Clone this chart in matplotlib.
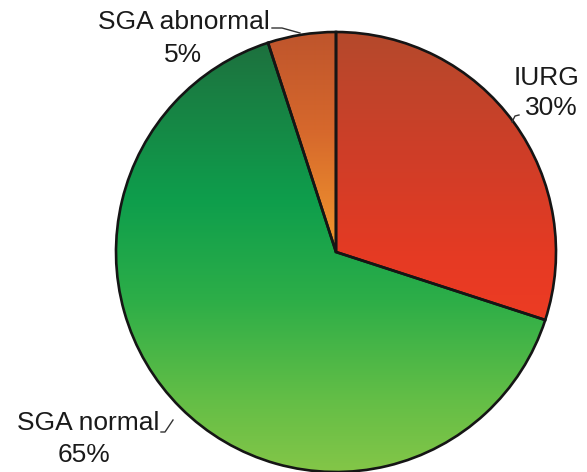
import numpy as np
import matplotlib.pyplot as plt

# Pie data
labels = ["IURG", "SGA normal", "SGA abnormal"]
shares = [30, 65, 5]

# Vertical colour ramps for each slice: (pixel row from top, RGB)
ramps = {
    "IURG": [(30, (180, 74, 44)), (150, (206, 62, 40)), (260, (230, 58, 35)), (330, (238, 60, 36))],
    "SGA normal": [(40, (30, 112, 62)), (200, (14, 158, 76)), (300, (45, 174, 72)),
                   (400, (100, 190, 70)), (472, (132, 198, 72))],
    "SGA abnormal": [(30, (190, 84, 44)), (130, (214, 104, 44)), (252, (242, 152, 46))],
}

W, H = 587, 472
fig = plt.figure(figsize=(W / 100, H / 100), dpi=100)
ax = fig.add_axes([0, 0, 1, 1])

cx, cy, r = 336, H - 252, 220
wedges, _ = ax.pie(shares, startangle=90, counterclock=False, center=(cx, cy),
                   radius=r, frame=True, colors=["none"] * 3,
                   wedgeprops=dict(edgecolor="#151515", linewidth=1.9))
ax.set_xlim(0, W)
ax.set_ylim(0, H)
ax.axis("off")

rows = np.arange(H)
for w, lab in zip(wedges, labels):
    stops = ramps[lab]
    ys = [s[0] for s in stops]
    img = np.zeros((H, 1, 3))
    for c in range(3):
        img[:, 0, c] = np.interp(rows, ys, [s[1][c] for s in stops]) / 255
    im = ax.imshow(img, extent=(0, W, 0, H), origin="upper", aspect="auto",
                   interpolation="bilinear", zorder=0)
    im.set_clip_path(w)
    w.set_zorder(2)

txt = dict(fontsize=19, color="#1a1a1a", family=["Liberation Sans", "DejaVu Sans"],
           ha="center", va="center")

def P(x, y):
    return (x, H - y)

ax.text(*P(184, 22), "SGA abnormal", **txt)
ax.text(*P(183, 55), "5%", **txt)
ax.text(*P(547, 78), "IURG", **txt)
ax.text(*P(551, 108), "30%", **txt)
ax.text(*P(88, 423), "SGA normal", **txt)
ax.text(*P(84, 455), "65%", **txt)

lead = dict(color="#333333", lw=1.0, zorder=3)
for pts in ([(272, 28), (282, 28), (300, 33)],
            [(512, 122), (515, 116), (519, 115)],
            [(161, 432), (165, 432), (173, 420)]):
    xs = [p[0] for p in pts]
    ys = [H - p[1] for p in pts]
    ax.plot(xs, ys, **lead)

fig.savefig("out.png", dpi=100)
